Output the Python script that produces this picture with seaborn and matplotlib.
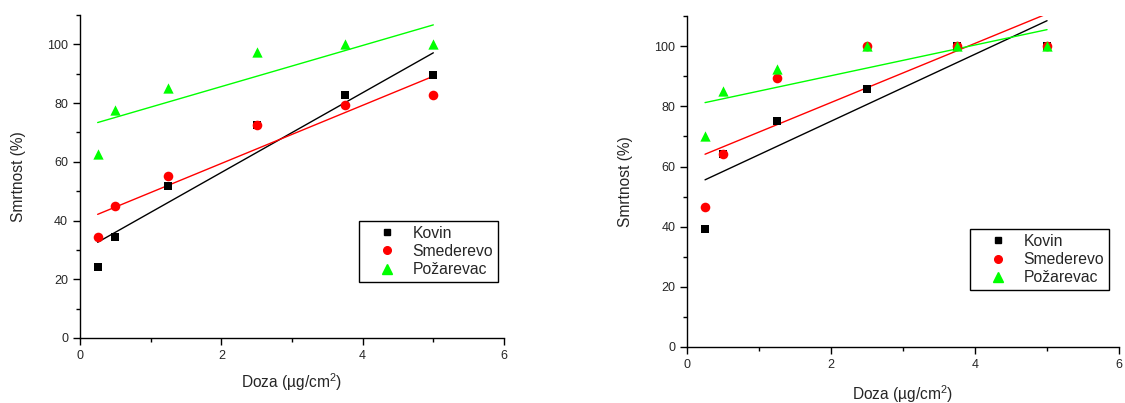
import numpy as np
import pandas as pd
import seaborn as sns
import matplotlib.pyplot as plt
from matplotlib.ticker import MultipleLocator
from matplotlib.lines import Line2D

# doses (ug/cm2)
doza = [0.25, 0.5, 1.25, 2.5, 3.75, 5.0]

# left panel mortality (%)
kovin_a = [24.1, 34.5, 51.7, 72.4, 82.8, 89.7]
smederevo_a = [34.5, 44.8, 55.2, 72.4, 79.3, 82.8]
pozarevac_a = [62.5, 77.5, 85.0, 97.5, 100.0, 100.0]

# right panel mortality (%)
kovin_b = [39.3, 64.3, 75.0, 85.7, 100.0, 100.0]
smederevo_b = [46.4, 64.3, 89.3, 100.0, 100.0, 100.0]
pozarevac_b = [70.0, 85.0, 92.5, 100.0, 100.0, 100.0]

names = ["Kovin", "Smederevo", "Požarevac"]
colors = ["#000000", "#ff0000", "#00ff00"]
markers = ["s", "o", "^"]
sizes = [38, 48, 55]

sns.set_style("ticks")
plt.rcParams['font.family'] = ['Liberation Sans', 'DejaVu Sans']
plt.rcParams['mathtext.default'] = 'regular'

fig = plt.figure(figsize=(11.25, 4.03), dpi=100)
ax1 = fig.add_axes([0.0711, 0.1613, 0.3769, 0.8015])
ax2 = fig.add_axes([0.6107, 0.139, 0.384, 0.821])


def panel(ax, series, legend_pos, ylpad, xlpad):
    for ys, name, c, m, s in zip(series, names, colors, markers, sizes):
        df = pd.DataFrame(dict(x=doza, y=ys))
        sns.regplot(data=df, x="x", y="y", ax=ax, ci=None, color=c, marker=m,
                    scatter_kws=dict(s=s, linewidths=0, alpha=1, zorder=3),
                    line_kws=dict(lw=1, zorder=2))
    ax.set_xlim(0, 6)
    ax.set_ylim(0, 110)
    ax.xaxis.set_major_locator(MultipleLocator(2))
    ax.xaxis.set_minor_locator(MultipleLocator(1))
    ax.yaxis.set_major_locator(MultipleLocator(20))
    ax.yaxis.set_minor_locator(MultipleLocator(10))
    ax.tick_params(which="major", length=5, width=1, labelsize=9, color="black")
    ax.tick_params(which="minor", length=3, width=1, color="black")
    sns.despine(ax=ax)
    for sp in ["left", "bottom"]:
        ax.spines[sp].set_color("black")
        ax.spines[sp].set_linewidth(1)
    ax.set_xlabel("Doza (µg/cm$^2$)", fontsize=11.2, labelpad=xlpad)
    ax.set_ylabel("Smrtnost (%)", fontsize=11.2, labelpad=ylpad)
    handles = [Line2D([], [], ls="", marker=m, color=c, markersize=ms)
               for c, m, ms in zip(colors, markers, [4.5, 5.5, 6.5])]
    leg = ax.legend(handles, names, loc="upper left", bbox_to_anchor=legend_pos,
                    fontsize=11.3, frameon=True, fancybox=False, handlelength=3.0,
                    handletextpad=0.1, borderpad=0.3, labelspacing=0.2,
                    borderaxespad=0)
    leg.get_frame().set_edgecolor("black")
    leg.get_frame().set_linewidth(1)
    leg.get_frame().set_alpha(1)


panel(ax1, [kovin_a, smederevo_a, pozarevac_a], (0.658, 0.362), 15, 7)
panel(ax2, [kovin_b, smederevo_b, pozarevac_b], (0.655, 0.356), 15, 9)

plt.savefig("out.png", dpi=100)
